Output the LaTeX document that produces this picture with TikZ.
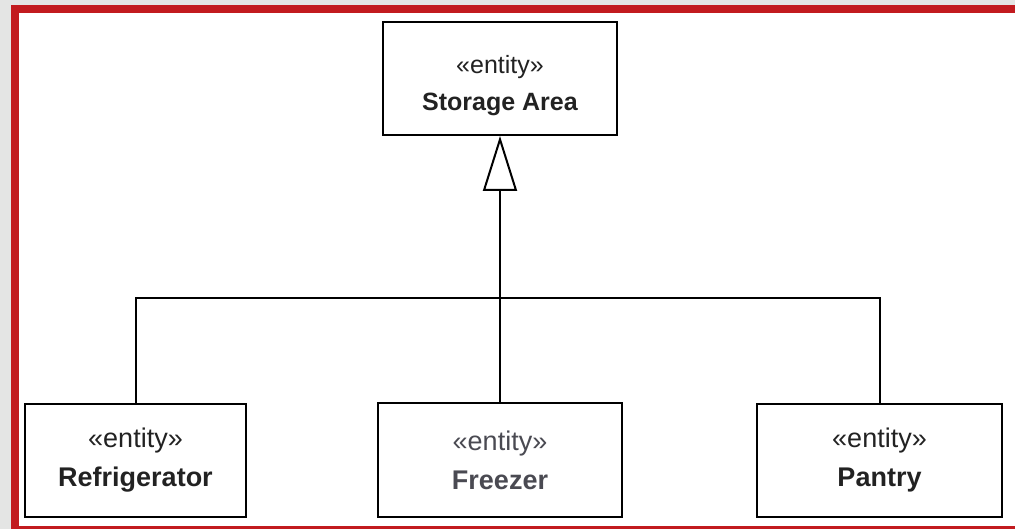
\documentclass[tikz,border=0pt]{standalone}
\usepackage{fontspec}
\setmainfont{Liberation Sans}
\usetikzlibrary{arrows.meta,positioning}

\definecolor{framered}{HTML}{C21B1F}
\definecolor{pagegrey}{HTML}{E4E5E4}
\definecolor{inkgrey}{HTML}{222222}
\definecolor{freezergrey}{HTML}{4A4A52}

\begin{document}
\begin{tikzpicture}[
  x=1pt, y=-1pt,
  entity/.style={draw, line width=2pt, align=center, inner sep=0pt, text=inkgrey, font=\fontsize{27}{39}\selectfont},
  gen/.style={-{Triangle[open, length=55pt, width=34pt, line width=2pt]}, line width=2pt},
  link/.style={line width=2pt}
]
% page frame
\fill[pagegrey] (0,0) rectangle (1015,529);
\fill[framered] (11,5) rectangle (1015,529);
\fill[white] (19,13) rectangle (1015,526);
\useasboundingbox (0,0) rectangle (1015,529);

\node[entity, minimum width=234pt, minimum height=113pt, font=\fontsize{25}{37}\selectfont] (storage) at (500,78.5) {\rule{0pt}{32pt}«entity»\\\textbf{Storage Area}};
\node[entity, minimum width=244pt, minimum height=114pt, text=freezergrey, below=266pt of storage] (freezer) {«entity»\\\textbf{Freezer}};
\node[entity, minimum width=221pt, minimum height=113pt, left=130pt of freezer] (fridge) {«entity»\\\textbf{Refrigerator}};
\node[entity, minimum width=245pt, minimum height=113pt, right=133pt of freezer] (pantry) {«entity»\\\textbf{Pantry}};

% generalisation
\coordinate (bar) at (500,298);
\draw[link] (fridge.north) |- (bar) -| (pantry.north);
\draw[gen] (freezer.north) -- (storage.south);

\end{tikzpicture}
\end{document}
